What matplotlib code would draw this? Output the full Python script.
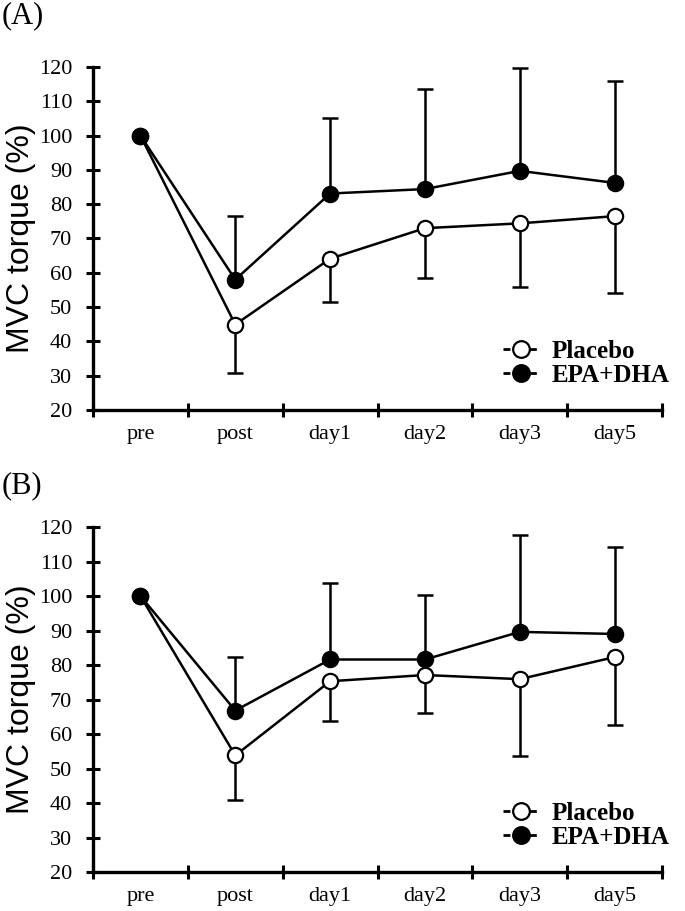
import numpy as np
import matplotlib
matplotlib.use("Agg")
from matplotlib import pyplot as plt
from matplotlib.lines import Line2D

#%% data
days = ["pre", "post", "day1", "day2", "day3", "day5"]

# panel A
placeboA = [100, 44.9, 64.1, 73.0, 74.4, 76.5]
placeboA_low = [100, 30.7, 51.4, 58.5, 55.9, 54.1]
epaA = [100, 58.0, 83.1, 84.4, 89.7, 86.2]
epaA_high = [100, 76.5, 105.0, 113.6, 119.6, 116.0]

# panel B
placeboB = [100, 53.8, 75.3, 77.1, 75.9, 82.3]
placeboB_low = [100, 41.0, 63.7, 66.1, 53.6, 62.6]
epaB = [100, 66.8, 81.6, 81.6, 89.6, 89.0]
epaB_high = [100, 82.4, 103.8, 100.3, 117.7, 114.3]

serif = "Liberation Serif"
plt.rcParams["font.family"] = serif


def panel(ax, pla, pla_low, epa, epa_high):
    x = np.arange(len(days))
    pla = np.array(pla); epa = np.array(epa)
    low = pla - np.array(pla_low)
    high = np.array(epa_high) - epa
    # error bars, only one side
    ax.errorbar(x, pla, yerr=[low, np.zeros_like(low)], fmt="none", ecolor="black",
                elinewidth=1.8, capsize=6, capthick=1.8, zorder=1)
    ax.errorbar(x, epa, yerr=[np.zeros_like(high), high], fmt="none", ecolor="black",
                elinewidth=1.8, capsize=6, capthick=1.8, zorder=1)
    ax.plot(x, pla, "-o", color="black", lw=1.8, ms=11, mfc="white",
            mec="black", mew=1.6, zorder=3)
    ax.plot(x, epa, "-o", color="black", lw=1.8, ms=11, mfc="black",
            mec="black", mew=1.6, zorder=4)

    ax.set_xlim(-0.5, len(days) - 0.5)
    ax.set_ylim(20, 120)
    ax.set_yticks(np.arange(20, 121, 10))
    ax.set_xticks(np.arange(-0.5, len(days), 1.0))
    ax.set_xticklabels([])
    ax.set_xticks(x, minor=True)
    ax.set_xticklabels(days, minor=True)
    ax.tick_params(axis="x", which="minor", length=0, pad=11, labelsize=16)
    ax.tick_params(axis="x", which="major", direction="inout", length=10, width=2.2)
    ax.tick_params(axis="y", direction="inout", length=10, width=2.2, labelsize=16, pad=10)
    for s in ["top", "right"]:
        ax.spines[s].set_visible(False)
    for s in ["left", "bottom"]:
        ax.spines[s].set_linewidth(2.4)
    ax.set_ylabel("MVC torque (%)", family="Liberation Sans", fontsize=23, labelpad=2)

    # legend handles: "-o-" with short dashes either side of the marker
    h1 = Line2D([], [], color="black", lw=2, dashes=(2.5, 7), marker="o", ms=12,
                mfc="white", mec="black", mew=1.6)
    h2 = Line2D([], [], color="black", lw=2, dashes=(2.5, 7), marker="o", ms=12,
                mfc="black", mec="black", mew=1.6)
    ax.legend(handles=[h1, h2], labels=["Placebo", "EPA+DHA"], loc="lower right",
              bbox_to_anchor=(1.035, 0.03), frameon=False, handlelength=1.45,
              handletextpad=0.5, labelspacing=0.05, borderpad=0,
              prop={"family": serif, "weight": "bold", "size": 18})
    return ax


fig = plt.figure(figsize=(6.85, 9.11), dpi=100)
axA = fig.add_axes([0.1358, 0.55, 0.8307, 0.3765])
axB = fig.add_axes([0.1358, 0.0428, 0.8307, 0.3787])
panel(axA, placeboA, placeboA_low, epaA, epaA_high)
panel(axB, placeboB, placeboB_low, epaB, epaB_high)

fig.text(0.002, 0.999, "(A)", fontsize=22, va="top", ha="left")
fig.text(0.002, 0.483, "(B)", fontsize=22, va="top", ha="left")

fig.savefig("out.png", dpi=100)
